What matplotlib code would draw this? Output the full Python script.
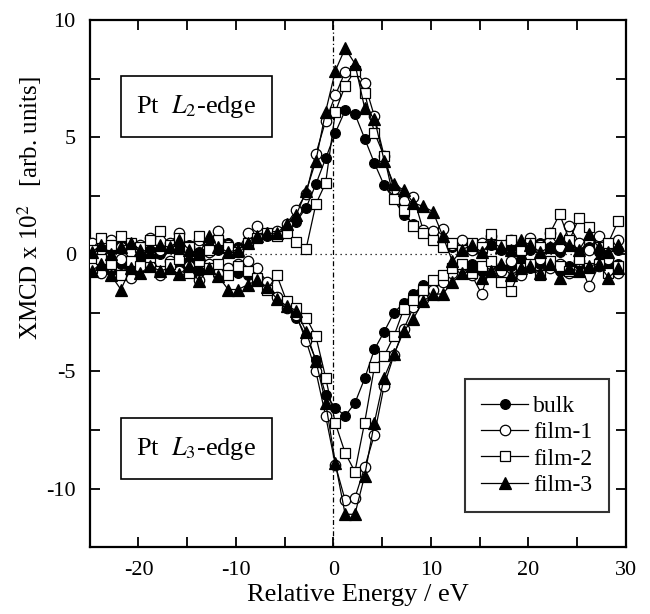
import numpy as np
import matplotlib
matplotlib.use('Agg')
import matplotlib.pyplot as plt
from matplotlib.patches import Rectangle
from matplotlib.ticker import MultipleLocator

plt.rcParams['font.family'] = ['Liberation Serif', 'DejaVu Serif']
plt.rcParams['mathtext.fontset'] = 'stix'
plt.rcParams['axes.unicode_minus'] = False

# energy grid (eV), common to all spectra
energy = [-24.8, -23.8, -22.8, -21.8, -20.8, -19.8, -18.8, -17.8, -16.8, -15.8,
          -14.8, -13.8, -12.8, -11.8, -10.8, -9.8, -8.8, -7.8, -6.8, -5.8,
          -4.8, -3.8, -2.8, -1.8, -0.8, 0.2, 1.2, 2.2, 3.2, 4.2,
          5.2, 6.2, 7.2, 8.2, 9.2, 10.2, 11.2, 12.2, 13.2, 14.2,
          15.2, 16.2, 17.2, 18.2, 19.2, 20.2, 21.2, 22.2, 23.2, 24.2,
          25.2, 26.2, 27.2, 28.2, 29.2]

# L2-edge XMCD (positive)
bulk_l2 = [0.3, 0.1, 0.2, 0.4, 0.1, 0.3, 0.2, 0.0, 0.3, 0.2, 0.4, 0.1, 0.3, 0.2, 0.5,
           0.3, 0.6, 0.7, 0.8, 0.9, 1.1, 1.4, 2.0, 3.0, 4.1,
           5.2, 6.15, 6.0, 4.95, 3.9, 2.95, 2.35, 1.7, 1.3, 1.0, 0.8, 0.5, 0.3,
           0.2, 0.3, 0.1, 0.4, 0.2, 0.3, 0.1, 0.2, 0.5, 0.3, 0.1, 0.4, 0.2, 0.3, 0.1, 0.3, 0.2]
film1_l2 = [0.5, 0.2, 0.6, 0.3, 0.1, 0.4, 0.7, 0.2, 0.5, 0.9, 0.3, 0.6, 0.1, 1.0, 0.4,
            0.2, 0.9, 1.2, 0.9, 1.0, 1.3, 1.9, 2.6, 4.3, 5.7,
            6.8, 7.8, 7.9, 7.3, 5.9, 4.2, 2.8, 2.3, 2.45, 1.05, 1.0, 1.1, 0.4,
            0.6, 0.2, 0.5, 0.8, 0.3, 0.6, 0.2, 0.7, 0.4, 0.9, 0.3, 1.2, 0.5, 0.2, 0.8, 0.3, 0.6]
film2_l2 = [0.2, 0.7, 0.4, 0.8, 0.5, 0.3, 0.6, 1.0, 0.4, 0.7, 0.3, 0.8, 0.2, 0.6, 0.3,
            0.1, 0.5, 0.7, 0.9, 0.8, 0.9, 0.55, 0.25, 2.15, 3.05,
            6.1, 7.2, 7.85, 6.9, 5.2, 4.2, 2.35, 1.9, 1.2, 0.9, 0.6, 0.3, 0.5,
            0.2, 0.5, 0.3, 0.87, 0.4, 0.6, 0.2, 0.5, 0.3, 0.9, 1.72, 0.6, 1.57, 1.15, 0.3, 0.5, 1.43]
film3_l2 = [0.1, 0.4, 0.0, 0.3, 0.5, 0.2, 0.1, 0.4, 0.3, 0.6, 0.2, 0.0, 0.8, 0.3, 0.1,
            0.2, 0.5, 0.8, 0.9, 0.9, 1.3, 1.7, 2.7, 4.0, 6.1,
            7.85, 8.8, 8.15, 6.25, 5.8, 4.0, 3.0, 2.75, 2.2, 2.05, 1.83, 0.8, -0.3,
            0.2, 0.4, 0.1, 0.5, 0.3, 0.2, 0.6, 0.4, 0.1, 0.3, 0.7, 0.4, 0.2, 0.85, 0.3, 0.1, 0.4]

# L3-edge XMCD (negative)
bulk_l3 = [-0.5, -0.3, -0.7, -0.4, -0.6, -0.2, -0.5, -0.8, -0.4, -0.6, -0.3, -0.7, -0.5, -0.9, -0.6,
           -0.8, -0.9, -1.0, -1.3, -1.8, -2.2, -2.7, -3.5, -4.5, -6.0,
           -6.55, -6.9, -6.35, -5.3, -4.06, -3.3, -2.5, -2.07, -1.7, -1.3, -1.15, -0.9, -0.7,
           -0.5, -0.4, -0.7, -0.3, -0.6, -0.5, -0.2, -0.6, -0.4, -0.3, -0.7, -0.5, -0.4, -0.6, -0.3, -0.5, -0.4]
film1_l3 = [-0.3, -0.8, -0.5, -0.2, -1.0, -0.6, -0.4, -0.9, -0.3, -0.7, -0.5, -1.1, -0.4, -0.8, -0.6,
            -0.4, -0.3, -0.6, -1.2, -1.8, -2.3, -2.6, -3.7, -5.0, -6.9,
            -9.0, -10.5, -10.4, -9.1, -7.7, -5.6, -4.3, -3.2, -2.26, -1.9, -1.5, -1.2, -0.8,
            -0.6, -0.9, -1.69, -0.4, -0.7, -0.3, -0.9, -0.5, -0.2, -0.6, -0.4, -0.8, -0.3, -1.36, -0.5, -0.2, -0.8]
film2_l3 = [-0.6, -0.2, -0.4, -0.9, -0.3, -0.5, -0.1, -0.7, -0.4, -0.2, -0.8, -0.3, -0.6, -0.4, -0.9,
            -0.5, -0.7, -1.0, -1.5, -0.9, -2.0, -2.3, -2.7, -3.5, -5.26,
            -7.22, -8.48, -9.28, -7.18, -4.81, -4.34, -3.49, -2.35, -1.93, -1.5, -1.1, -0.87, -0.6,
            -0.4, -0.8, -0.5, -0.3, -1.2, -1.57, -0.6, -0.4, -0.9, -0.3, -0.5, -0.7, -0.2, -0.6, -0.4, -0.8, -0.5]
film3_l3 = [-0.7, -0.4, -0.9, -1.5, -0.6, -0.8, -0.5, -0.7, -0.6, -0.85, -0.5, -1.15, -0.6, -0.94, -1.5,
            -1.5, -1.3, -1.1, -1.4, -1.9, -2.2, -2.4, -3.3, -4.55, -6.33,
            -8.92, -11.1, -11.1, -9.45, -7.18, -5.26, -4.27, -3.28, -2.74, -2.0, -1.7, -1.69, -1.2,
            -0.8, -0.5, -1.0, -0.7, -0.4, -0.9, -0.6, -0.5, -0.8, -0.4, -1.0, -0.6, -0.7, -0.5, -0.4, -1.0, -0.6]

labels = ['bulk', 'film-1', 'film-2', 'film-3']
series = [(bulk_l2, bulk_l3), (film1_l2, film1_l3), (film2_l2, film2_l3), (film3_l2, film3_l3)]
styles = [dict(marker='o', mfc='black', ms=7),
          dict(marker='o', mfc='white', ms=7.5),
          dict(marker='s', mfc='white', ms=6.5),
          dict(marker='^', mfc='black', ms=8)]

fig = plt.figure(figsize=(6.5, 6.14), dpi=100)
ax = fig.add_axes([0.138, 0.109, 0.825, 0.858])

ax.axhline(0, color='black', lw=0.9, ls=(0, (1, 3)), zorder=1)
ax.axvline(0, color='black', lw=0.9, ls=(0, (4, 2, 1, 2)), zorder=1)

for lab, (l2, l3), st in zip(labels, series, styles):
    for k, y in enumerate((l2, l3)):
        ax.plot(energy, y, color='black', lw=0.9, mec='black', mew=0.9,
                label=lab if k == 0 else None, zorder=3, **st)

ax.set_xlim(-25, 30)
ax.set_ylim(-12.5, 10)
ax.xaxis.set_major_locator(MultipleLocator(10))
ax.xaxis.set_minor_locator(MultipleLocator(5))
ax.yaxis.set_major_locator(MultipleLocator(5))
ax.yaxis.set_minor_locator(MultipleLocator(2.5))
ax.tick_params(which='both', direction='in', top=True, right=True, width=1.3,
               labelsize=16, pad=10)
ax.tick_params(which='major', length=7)
ax.tick_params(which='minor', length=7)
for sp in ax.spines.values():
    sp.set_linewidth(1.6)

ax.set_xlabel('Relative Energy / eV', fontsize=19, labelpad=3)
ax.set_ylabel('XMCD x 10$^2$   [arb. units]', fontsize=18)
ax.yaxis.set_label_coords(-0.085, 0.643)

# edge label boxes
for y0, txt in [(0.778, 'Pt  $L_2$-edge'), (0.129, 'Pt  $L_3$-edge')]:
    ax.add_patch(Rectangle((0.058, y0), 0.282, 0.116, transform=ax.transAxes,
                           fill=True, fc='white', ec='black', lw=1.2, zorder=5))
    ax.text(0.058 + 0.141, y0 + 0.058, txt, transform=ax.transAxes, ha='center',
            va='center', fontsize=19, zorder=6)

leg = ax.legend(loc='lower right', bbox_to_anchor=(0.968, 0.066), fontsize=17,
                frameon=True, fancybox=False, edgecolor='black', handlelength=2.0,
                handletextpad=0.2, labelspacing=0.2, borderpad=0.7, borderaxespad=0)
leg.get_frame().set_linewidth(1.5)
leg.set_zorder(6)

fig.savefig('out.png', dpi=100)
